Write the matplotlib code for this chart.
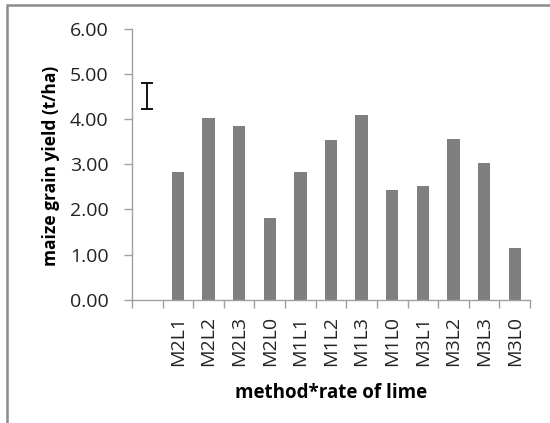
import matplotlib
matplotlib.use("Agg")
import matplotlib.pyplot as plt
from matplotlib.patches import Rectangle

categories = ["", "M2L1", "M2L2", "M2L3", "M2L0", "M1L1", "M1L2", "M1L3",
              "M1L0", "M3L1", "M3L2", "M3L3", "M3L0"]
yields = [0, 2.84, 4.02, 3.84, 1.81, 2.84, 3.54, 4.09, 2.44, 2.51, 3.57, 3.03, 1.15]
lsd_center = 4.52
lsd_half = 0.285
yticks = [0, 1, 2, 3, 4, 5, 6]

plt.rcParams['font.family'] = ['Open Sans', 'DejaVu Sans']

fig = plt.figure(figsize=(5.5, 4.23), dpi=100)
fig.patches.append(Rectangle((7/550, -0.1), 1.2, 1 - 5/423 + 0.1, transform=fig.transFigure,
                             fill=False, edgecolor='#8c8c8c', linewidth=1.8))
ax = fig.add_axes([132/550, 1 - 299.7/423, 398/550, 270.7/423])

x = list(range(len(categories)))
ax.bar(x, yields, width=0.4, color='#7f7f7f', zorder=2)
ax.errorbar([0], [lsd_center], yerr=[lsd_half], fmt='none', ecolor='black',
            elinewidth=1.3, capsize=4, capthick=1.3)

ax.set_xlim(-0.5, len(categories) - 0.5)
ax.set_ylim(0, 6)
ax.set_yticks(yticks)
ax.set_yticklabels([f"{v:.2f}" for v in yticks], fontsize=14, color='#222222')
ax.set_xticks(x)
ax.set_xticklabels(categories, rotation=90, fontsize=14, color='#222222')
ax.tick_params(axis='x', length=0, pad=12)
ax.set_xticks([i + 0.5 for i in range(-1, len(categories))], minor=True)
ax.tick_params(axis='x', which='minor', length=6, color='#a0a0a0', width=1)
ax.tick_params(axis='y', length=6, color='#a0a0a0', width=1, pad=11)

for s in ['top', 'right']:
    ax.spines[s].set_visible(False)
for s in ['left', 'bottom']:
    ax.spines[s].set_color('#a0a0a0')
    ax.spines[s].set_linewidth(1)

ax.set_ylabel("maize grain yield (t/ha)", fontsize=12.5, fontweight='bold')
ax.yaxis.set_label_coords(60/550, 1 - 166/423, transform=fig.transFigure)
ax.set_xlabel("method*rate of lime", fontsize=13.5, fontweight='bold')
ax.xaxis.set_label_coords(331/550, 1 - 383/423, transform=fig.transFigure)

fig.savefig("out.png", dpi=100)
